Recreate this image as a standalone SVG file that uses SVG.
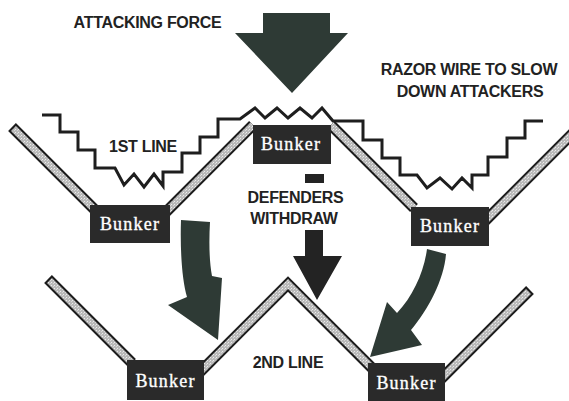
<svg xmlns="http://www.w3.org/2000/svg" width="569" height="401" viewBox="0 0 569 401">
<defs>
<pattern id="stip" width="3" height="3" patternUnits="userSpaceOnUse">
<rect width="3" height="3" fill="#b9b9b9"/>
<rect x="0" y="0" width="1" height="1" fill="#ececec"/>
<rect x="2" y="1" width="1" height="1" fill="#d8d8d8"/>
</pattern>
</defs>
<style>
.bo{fill:none;stroke:#1c1c1c;stroke-width:11;stroke-linejoin:miter;stroke-linecap:butt}
.bi{fill:none;stroke:url(#stip);stroke-width:7;stroke-linejoin:miter;stroke-linecap:butt}
.bunk{fill:#2a2a2a}
.bt{font-family:"Liberation Serif","Times New Roman",serif;font-size:18px;fill:#ffffff;stroke:#ffffff;stroke-width:0.35;text-anchor:middle;letter-spacing:1.2px}
.lab{font-family:"Liberation Sans",Arial,sans-serif;font-weight:bold;font-size:16px;fill:#222;text-anchor:middle;letter-spacing:-0.3px}
.wire{fill:none;stroke:#1e1e1e;stroke-width:3;stroke-linejoin:miter}
.ga{fill:#2e3a35}
.ka{fill:#232323}
</style>
<rect width="569" height="401" fill="#ffffff"/>
<g id="razor-wire">
<path class="wire" d="M42,115 H60 V132 H78 V150 H95 V168 H115 L124,185 L134,174 L144,187 L154,174 L163,186 V172 H182 V153 H200 V137 H218 V119 H240 L255,108 L265,118 L277,108 L288,118 L300,108 L312,118 L322,108 L333,121 H363 V140 H382 V158 H400 V175 H417 L427,188 L440,178 L452,189 L462,178 L472,188 V175 H488 V157 H507 V138 H525 V121 H543"/>
</g>
<g id="trench-1st-line">
<path class="bo" d="M12,127 L95,210 M165,213 L253,125 M331,125 L414,208 M484,222 L575,131"/>
<path class="bi" d="M13.5,128.5 L95,210 M165,213 L253,125 M331,125 L414,208 M484,222 L575,131"/>
</g>
<g id="trench-2nd-line">
<path class="bo" d="M48,279 L132,363 M199,373 L288,284 L373,369 M440,380 L530,290"/>
<path class="bi" d="M49.5,280.5 L132,363 M199,373 L288,284 L373,369 M440,380 L528.5,291.5"/>
</g>
<g id="bunker-left">
<rect class="bunk" x="90" y="205" width="80" height="38"/>
<text class="bt" x="130" y="230">Bunker</text>
</g>
<g id="bunker-top">
<rect class="bunk" x="253" y="125" width="78" height="39"/>
<text class="bt" x="291" y="150">Bunker</text>
</g>
<g id="bunker-right">
<rect class="bunk" x="411" y="207" width="78" height="39"/>
<text class="bt" x="450" y="232">Bunker</text>
</g>
<g id="bunker-bottom-left">
<rect class="bunk" x="127" y="360" width="77" height="40"/>
<text class="bt" x="165.5" y="387">Bunker</text>
</g>
<g id="bunker-bottom-right">
<rect class="bunk" x="368" y="363" width="77" height="38"/>
<text class="bt" x="406.5" y="389">Bunker</text>
</g>
<g id="connectors">
<path id="attack-arrow" class="ga" d="M263,13 H330 V33 H348 L292,93 L235,33 H263 Z"/>
<rect id="defender-marker" class="ka" x="305" y="174" width="19" height="9"/>
<path id="withdraw-arrow" class="ka" d="M305,230 H323 V256 H342 L317,300 L293,256 H305 Z"/>
<path id="left-curved-arrow" class="ga" d="M181,220 L210,222 C209,240 209,260 212,276 L222,278 L218,340 L168,305 L187,297 C182,280 180,250 181,220 Z"/>
<path id="right-curved-arrow" class="ga" d="M427,249 L446,254 C444,280 428,310 411,330 L422,345 L370,357 L387,302 L397,313 C413,296 424,272 427,249 Z"/>
</g>
<g id="labels">
<text class="lab" x="147.5" y="28">ATTACKING FORCE</text>
<text class="lab" x="469" y="75">RAZOR WIRE TO SLOW</text>
<text class="lab" x="470" y="97">DOWN ATTACKERS</text>
<text class="lab" x="143" y="152">1ST LINE</text>
<text class="lab" x="295.5" y="203">DEFENDERS</text>
<text class="lab" x="294" y="224">WITHDRAW</text>
<text class="lab" x="288" y="368">2ND LINE</text>
</g>
</svg>
